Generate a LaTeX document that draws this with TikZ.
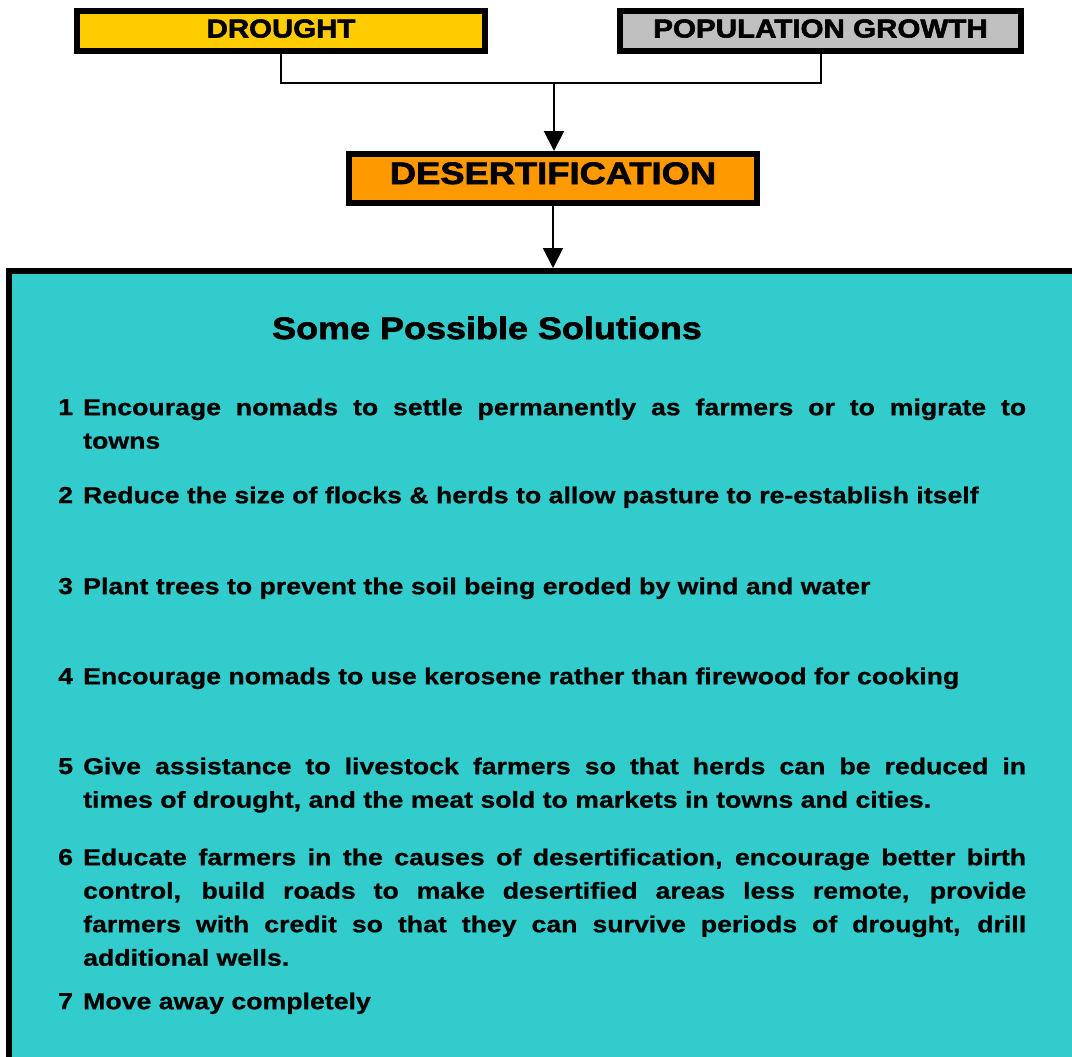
\documentclass[tikz,border=0pt]{standalone}
\usepackage{fontspec}
\setmainfont{Liberation Sans}[FakeStretch=1.16, BoldFeatures={FakeBold=0.8}]
\newfontfamily\heavyfont{Liberation Sans Bold}[FakeStretch=1.16, FakeBold=2.2]
\usetikzlibrary{arrows.meta}
\definecolor{cyanbg}{HTML}{33CCCC}
\definecolor{yellowbox}{HTML}{FFCC00}
\definecolor{greybox}{HTML}{C0C0C0}
\definecolor{orangebox}{HTML}{FF9900}
\tikzset{
  topbox/.style={draw=black, line width=6pt, inner sep=0pt, font=\fontsize{26}{30}\selectfont\heavyfont},
  conn/.style={line width=2pt, draw=black},
  arr/.style={conn, -{Triangle[width=20pt,length=20pt]}},
  num/.style={anchor=base west, inner sep=0pt, font=\fontsize{23}{33.5}\selectfont\bfseries},
  itemtext/.style={anchor=north west, inner sep=0pt, text width=943pt, align=justify, font=\fontsize{23}{33.5}\selectfont\bfseries},
}
\begin{document}
\begin{tikzpicture}[x=1pt,y=-1pt]
\useasboundingbox (0,0) rectangle (1072,1057);
\clip (0,0) rectangle (1072,1057);
% top boxes
\node[topbox, fill=yellowbox, minimum width=408pt, minimum height=40pt, text height=19pt, text depth=7pt] (drought) at (281,31.5) {\scalebox{0.975}[1]{DROUGHT}};
\node[topbox, fill=greybox, minimum width=401pt, minimum height=40pt, text height=19pt, text depth=7pt] (pop) at (820.5,31.5) {\scalebox{0.98}[1]{POPULATION GROWTH}};
\node[topbox, fill=orangebox, minimum width=408pt, minimum height=49pt, text height=22pt, text depth=11pt, font=\fontsize{31}{36}\selectfont\heavyfont] (desert) at (553,178.5) {\scalebox{1.01}[1]{DESERTIFICATION}};
% panel
\node[draw=black, fill=cyanbg, line width=6pt, anchor=north west, minimum width=1100pt, minimum height=820pt, inner sep=0pt] (panel) at (6,268) {};
% connectors
\coordinate (join) at (554,83);
\draw[conn] (drought.south) |- (join) -| (pop.south);
\draw[arr] (join) -- (desert.north -| join);
\draw[arr] (desert.south) -- (desert.south |- panel.north);
% title
\node[anchor=base, inner sep=0pt, font=\fontsize{31}{36}\selectfont\heavyfont] (title) at (487,339) {Some Possible Solutions};
% items
\node[num] (n1) at (58,415) {1};
\node[itemtext] (t1) at (83,397) {\noindent\rule{0pt}{18pt}Encourage nomads to settle permanently as farmers or to migrate to\linebreak towns};
\node[num] (n2) at (58,503) {2};
\node[itemtext] (t2) at (83,485) {\noindent\rule{0pt}{18pt}Reduce the size of flocks \& herds to allow pasture to re-establish itself};
\node[num] (n3) at (58,594) {3};
\node[itemtext] (t3) at (83,576) {\noindent\rule{0pt}{18pt}Plant trees to prevent the soil being eroded by wind and water};
\node[num] (n4) at (58,684) {4};
\node[itemtext] (t4) at (83,666) {\noindent\rule{0pt}{18pt}Encourage nomads to use kerosene rather than firewood for cooking};
\node[num] (n5) at (58,774) {5};
\node[itemtext] (t5) at (83,756) {\noindent\rule{0pt}{18pt}Give assistance to livestock farmers so that herds can be reduced in\linebreak times of drought, and the meat sold to markets in towns and cities.};
\node[num] (n6) at (58,865) {6};
\node[itemtext] (t6) at (83,847) {\noindent\rule{0pt}{18pt}Educate farmers in the causes of desertification, encourage better birth\linebreak control, build roads to make desertified areas less remote, provide\linebreak farmers with credit so that they can survive periods of drought, drill\linebreak additional wells.};
\node[num] (n7) at (58,1009) {7};
\node[itemtext] (t7) at (83,991) {\noindent\rule{0pt}{18pt}Move away completely};
\end{tikzpicture}
\end{document}
